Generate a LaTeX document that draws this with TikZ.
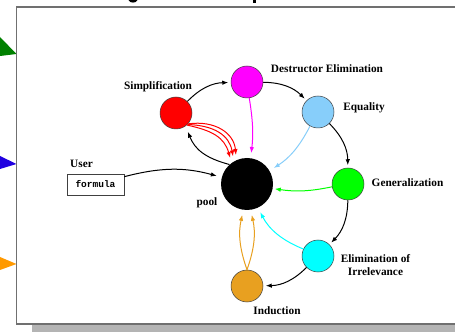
\documentclass[tikz,border=0pt]{standalone}
\usepackage{fontspec}
\setmainfont{Liberation Serif}
\newfontfamily\codefont{Liberation Mono}
\usetikzlibrary{arrows.meta}
\definecolor{simpcol}{HTML}{FF0000}
\definecolor{destcol}{HTML}{FF00FF}
\definecolor{eqcol}{HTML}{87CEFA}
\definecolor{gencol}{HTML}{00FF00}
\definecolor{elimcol}{HTML}{00FFFF}
\definecolor{indcol}{HTML}{E8A020}
\definecolor{tabgreen}{HTML}{008000}
\definecolor{tabblue}{HTML}{2000E0}
\definecolor{taborange}{HTML}{FF9900}
\definecolor{framegray}{HTML}{707070}
\definecolor{shadowgray}{HTML}{B4B4B4}
\begin{document}
\begin{tikzpicture}[x=1pt,y=1pt,
  stage/.style={circle,draw=black!75,line width=0.5pt,minimum size=32pt,inner sep=0pt},
  lbl/.style={font=\fontsize{11.3}{12.5}\selectfont\bfseries,inner sep=0pt,align=center},
  tip/.style={-{Latex[length=6pt,width=4.5pt]}},
  flow/.style={tip,line width=1pt,shorten >=2.5pt},
  feed/.style={tip,line width=1pt,shorten >=5pt}]
\useasboundingbox (0,0) rectangle (455,332);
\fill[white] (0,0) rectangle (455,332);

% drop shadow and slide frame
\fill[shadowgray] (32,0) rectangle (455,7);
\fill[white] (16.5,8) rectangle (470,325);

% coloured tabs at the left edge
\fill[tabgreen] (0,295) -- (16.5,278) -- (0,276) -- cycle;
\fill[tabblue] (0,176) -- (16.5,168) -- (0,163) -- cycle;
\fill[taborange] (0,75) -- (16.5,68) -- (0,62) -- cycle;
\draw[framegray,line width=1.5pt] (470,325) -- (16.5,325) -- (16.5,8) -- (470,8);

% descenders of the heading above the frame
\fill (128.5,332) .. controls (130,328.5) and (136,328.5) .. (137.5,332) -- cycle;
\fill (252.5,329) rectangle (256,332);

% the pool and the six stages
\node[circle,fill=black,minimum size=52pt,inner sep=0pt] (pool) at (247,148) {};
\node[stage,fill=simpcol] (simp) at (176,219) {};
\node[stage,fill=destcol] (destr) at (247,250) {};
\node[stage,fill=eqcol] (equal) at (318,220) {};
\node[stage,fill=gencol] (gen) at (348,148) {};
\node[stage,fill=elimcol] (elim) at (318,76) {};
\node[stage,fill=indcol] (ind) at (247,46) {};

% labels
\node[lbl] (simplbl) at (158,245) {Simplification};
\node[lbl] (destrlbl) at (327,263) {Destructor Elimination};
\node[lbl] (equallbl) at (364,224) {Equality};
\node[lbl] (genlbl) at (407.5,149) {Generalization};
\node[lbl] (elimlbl) at (375.5,67) {Elimination of\\Irrelevance};
\node[lbl] (indlbl) at (277,21) {Induction};
\node[lbl] (poollbl) at (207,129) {pool};
\node[lbl] (userlbl) at (81.5,168) {User};
\node[draw=black!75,line width=0.6pt,minimum width=57pt,minimum height=21pt,inner sep=0pt,
  font=\codefont\bfseries\fontsize{9.5}{10}\selectfont] (formula) at (95.5,147.5) {formula};

% the waterfall around the pool
\draw[flow] (simp) to[bend left=22] (destr);
\draw[flow] (destr) to[bend left=22] (equal);
\draw[flow] (equal) to[bend left=22] (gen);
\draw[flow] (gen) to[bend left=22] (elim);
\draw[flow] (elim) to[bend left=22] (ind);

% pool feeds simplification
\draw[feed,shorten >=6pt] (pool.132) to[out=165,in=-68,looseness=1.1] (simp.-54);

% stages returning formulas to the pool
\draw[feed,simpcol] (simp.-42) to[out=8,in=95,looseness=1.15] (pool.114);
\draw[feed,simpcol] (simp.-45) to[out=-2,in=100,looseness=1.15] (pool.120);
\draw[feed,simpcol] (simp.-48) to[out=-12,in=106,looseness=1.15] (pool.126);
\draw[feed,destcol] (destr) to[bend left=8] (pool);
\draw[feed,eqcol] (equal) to[bend left=15] (pool);
\draw[feed,gencol,shorten >=2pt] (gen) to[bend left=10] (pool);
\draw[feed,elimcol] (elim) to[bend left=20] (pool);
\draw[feed,indcol] (ind.north) to[bend left=16] (pool.-98);
\draw[feed,indcol] (ind.north) to[bend right=16] (pool.-82);

% user input
\draw[feed] (formula) to[bend left=15] (pool);
\end{tikzpicture}
\end{document}
